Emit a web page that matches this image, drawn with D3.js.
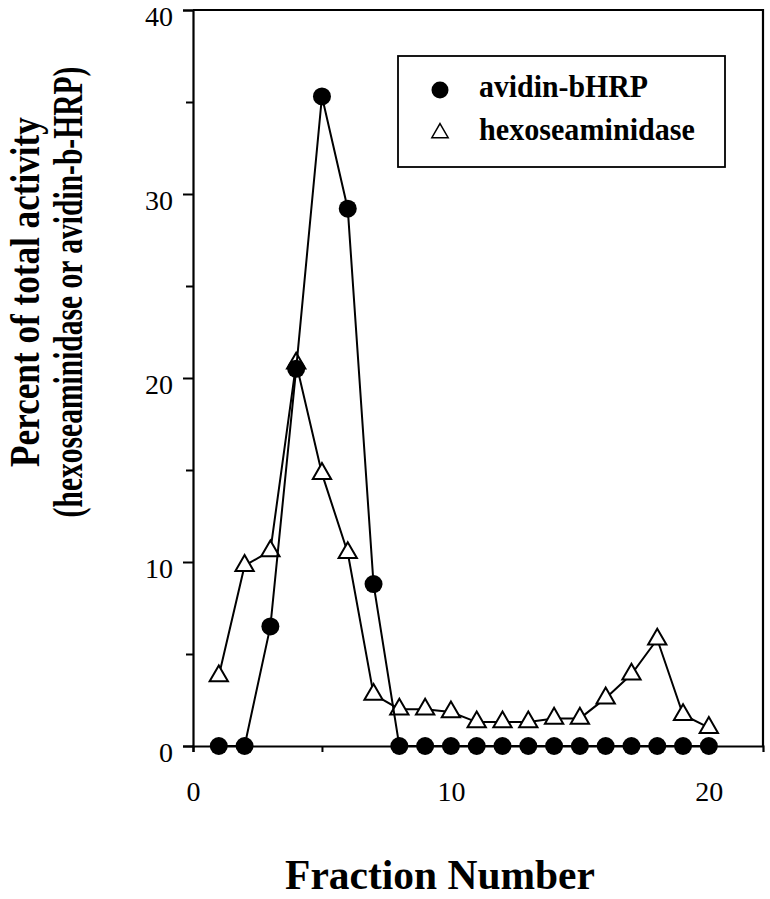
<!DOCTYPE html>
<html>
<head>
<meta charset="utf-8">
<script src="https://cdn.jsdelivr.net/npm/d3@7"></script>
<style>
  body { margin: 0; background: #fff; }
  svg { display: block; }
  text { font-family: "Liberation Serif", "Times New Roman", serif; fill: #000; }
</style>
</head>
<body>
<div id="chart"></div>
<script>
// fraction numbers and the two measured series (percent of total activity)
const fractions = d3.range(1, 21);
const avidinValues = [0, 0, 6.5, 20.5, 35.3, 29.2, 8.8, 0, 0, 0, 0, 0, 0, 0, 0, 0, 0, 0, 0, 0];
const hexoValues = [3.8, 9.8, 10.6, 20.8, 14.8, 10.5, 2.8, 2.0, 2.0, 1.85, 1.3, 1.3, 1.3, 1.5, 1.5, 2.6, 3.9, 5.8, 1.7, 1.0];
const xTicks = [0, 10, 20];
const xMinorTicks = [5, 15];
const yTicks = [0, 10, 20, 30, 40];
const yMinorTicks = [5, 15, 25, 35];
const legendLabels = ["avidin-bHRP", "hexoseaminidase"];

const width = 770, height = 899;
const margin = {top: 10, right: 7, bottom: 153, left: 193};
const innerW = width - margin.left - margin.right;
const innerH = height - margin.top - margin.bottom;

const svg = d3.select("#chart").append("svg")
    .attr("width", width)
    .attr("height", height);

const g = svg.append("g")
    .attr("transform", "translate(" + margin.left + "," + margin.top + ")");

const x = d3.scaleLinear().domain([0, 22.1]).range([0, innerW]);
const y = d3.scaleLinear().domain([0, 40]).range([innerH, 0]);

// squeeze a text sideways so that it is `len` px long (the original type is condensed)
function squeeze(sel, len) {
    sel.each(function() {
        const w = this.getComputedTextLength();
        const k = Math.min(1, len / w);
        const t = d3.select(this).attr("transform") || "";
        d3.select(this).attr("transform", t + " scale(" + k + ",1)");
    });
}

// frame: top and right edges
g.append("path")
    .attr("d", "M0,0H" + innerW + "V" + innerH)
    .attr("fill", "none")
    .attr("stroke", "#000")
    .attr("stroke-width", 2.2);

// y axis, major + minor ticks pointing out
g.append("g")
    .attr("class", "y-axis")
    .call(d3.axisLeft(y).tickValues(yTicks).tickSize(10).tickPadding(10));
g.append("g")
    .call(d3.axisLeft(y).tickValues(yMinorTicks).tickSize(7).tickFormat(""))
    .select(".domain").remove();
g.selectAll(".y-axis .tick text").attr("dy", "0.54em");

// x axis on the zero line, ticks pointing down
g.append("g")
    .attr("class", "x-axis")
    .attr("transform", "translate(0," + innerH + ")")
    .call(d3.axisBottom(x).tickValues(xTicks).tickSize(6).tickPadding(29));
g.append("g")
    .attr("transform", "translate(0," + innerH + ")")
    .call(d3.axisBottom(x).tickValues(xMinorTicks).tickSize(6).tickFormat(""))
    .select(".domain").remove();

g.selectAll(".domain").attr("stroke-width", 2.2);
g.selectAll(".tick line").attr("stroke-width", 2);
g.selectAll(".tick text")
    .attr("font-size", 28)
    .attr("font-family", "Liberation Serif, serif");

// series lines
const line = d3.line()
    .x(d => x(d[0]))
    .y(d => y(d[1]));

const hexoData = fractions.map((f, i) => [f, hexoValues[i]]);
const avidinData = fractions.map((f, i) => [f, avidinValues[i]]);

g.append("path")
    .datum(hexoData)
    .attr("d", line)
    .attr("fill", "none")
    .attr("stroke", "#000")
    .attr("stroke-width", 2);

const tri = d3.symbol().type(d3.symbolTriangle).size(145);

g.selectAll(".hexo")
    .data(hexoData)
    .enter().append("path")
    .attr("class", "hexo")
    .attr("d", tri)
    .attr("transform", d => "translate(" + x(d[0]) + "," + y(d[1]) + ")")
    .attr("fill", "#fff")
    .attr("stroke", "#000")
    .attr("stroke-width", 2);

g.append("path")
    .datum(avidinData)
    .attr("d", line)
    .attr("fill", "none")
    .attr("stroke", "#000")
    .attr("stroke-width", 2);

g.selectAll(".avidin")
    .data(avidinData)
    .enter().append("circle")
    .attr("class", "avidin")
    .attr("cx", d => x(d[0]))
    .attr("cy", d => y(d[1]))
    .attr("r", 9)
    .attr("fill", "#000");

// legend
const legend = svg.append("g").attr("transform", "translate(398,56)");
legend.append("rect")
    .attr("width", 327)
    .attr("height", 111)
    .attr("fill", "#fff")
    .attr("stroke", "#000")
    .attr("stroke-width", 1.8);
legend.append("circle")
    .attr("cx", 42).attr("cy", 34).attr("r", 8.5).attr("fill", "#000");
legend.append("path")
    .attr("d", d3.symbol().type(d3.symbolTriangle).size(115))
    .attr("transform", "translate(42,77)")
    .attr("fill", "#fff")
    .attr("stroke", "#000")
    .attr("stroke-width", 1.5);
const legendLen = [169, 216];
legendLabels.forEach((lab, i) => {
    legend.append("text")
        .attr("class", "lab")
        .attr("transform", "translate(81," + (41 + i * 43) + ")")
        .attr("font-size", 31)
        .attr("font-weight", "bold")
        .text(lab)
        .call(squeeze, legendLen[i]);
});

// axis titles
svg.append("text")
    .attr("transform", "translate(440,889)")
    .attr("text-anchor", "middle")
    .attr("font-size", 42)
    .attr("font-weight", "bold")
    .text("Fraction Number")
    .call(squeeze, 310);

svg.append("text")
    .attr("transform", "translate(39,292) rotate(-90)")
    .attr("text-anchor", "middle")
    .attr("font-size", 42)
    .attr("font-weight", "bold")
    .text("Percent of total activity")
    .call(squeeze, 350);

svg.append("text")
    .attr("transform", "translate(82,292) rotate(-90)")
    .attr("text-anchor", "middle")
    .attr("font-size", 42)
    .attr("font-weight", "bold")
    .text("(hexoseaminidase or avidin-b-HRP)")
    .call(squeeze, 451);
</script>
</body>
</html>
